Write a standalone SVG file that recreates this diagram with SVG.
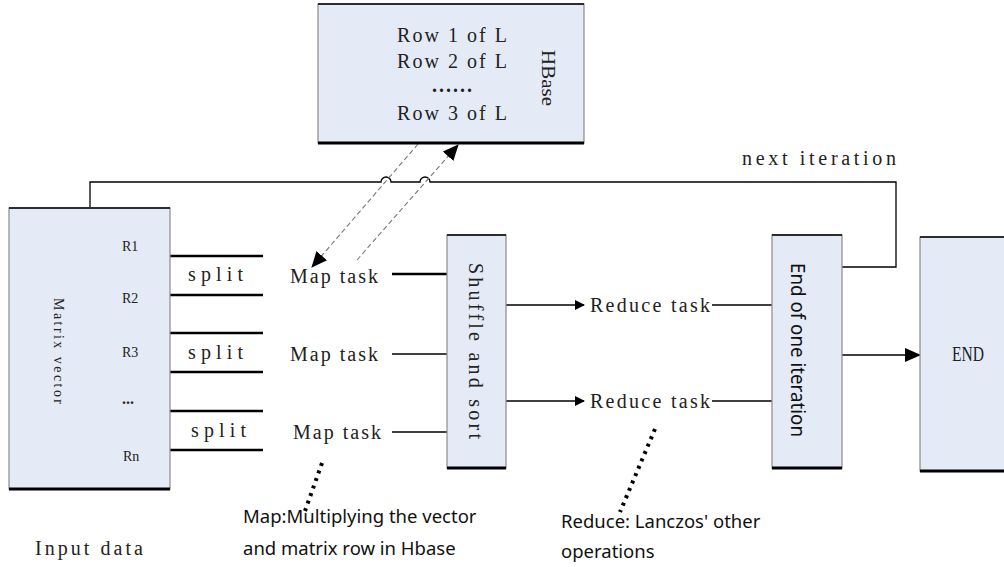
<svg xmlns="http://www.w3.org/2000/svg" width="1004" height="567" viewBox="0 0 1004 567">
<style>
.box{fill:#e5ebf6;stroke:#8a8a8a;stroke-width:1.2}
.top{stroke:#000;stroke-width:1.6}
.bot{stroke:#000;stroke-width:3}
.ln{stroke:#000;stroke-width:1.3;fill:none}
.thk{stroke:#000;stroke-width:2.4;fill:none}
.ser{font-family:"Liberation Serif",serif;fill:#222}
.sans{font-family:"Noto Sans","Liberation Sans",sans-serif;fill:#111}
.dash{stroke:#777;stroke-width:1.1;stroke-dasharray:5,3;fill:none}
.dot{stroke:#000;stroke-width:4;stroke-dasharray:3,5;fill:none}
</style>
<defs>
<marker id="ah" markerWidth="10" markerHeight="10" refX="9" refY="5" orient="auto" markerUnits="userSpaceOnUse"><path d="M0,0 L10,5 L0,10 z" fill="#000"/></marker>
<marker id="ah2" markerWidth="16" markerHeight="14" refX="15" refY="7" orient="auto" markerUnits="userSpaceOnUse"><path d="M0,0 L16,7 L0,14 z" fill="#000"/></marker>
</defs>

<g id="connectors">
<path class="ln" d="M90,207 V182 H381 A5,5 0 0 1 391,182 H420 A5,5 0 0 1 430,182 H896 V267 H842"/>
<line class="thk" x1="170" y1="256" x2="263" y2="256"/>
<line class="thk" x1="170" y1="295" x2="263" y2="295"/>
<line class="thk" x1="170" y1="333" x2="263" y2="333"/>
<line class="thk" x1="170" y1="372" x2="263" y2="372"/>
<line class="thk" x1="170" y1="411" x2="263" y2="411"/>
<line class="thk" x1="170" y1="450" x2="263" y2="450"/>
<line class="thk" x1="392" y1="274" x2="447" y2="274"/>
<line class="ln" x1="392" y1="354" x2="447" y2="354"/>
<line class="ln" x1="392" y1="432" x2="447" y2="432"/>
<line class="ln" x1="506" y1="305" x2="584" y2="305" marker-end="url(#ah)"/>
<line class="ln" x1="506" y1="401" x2="584" y2="401" marker-end="url(#ah)"/>
<line class="ln" x1="712" y1="305" x2="772" y2="305"/>
<line class="ln" x1="712" y1="401" x2="772" y2="401"/>
<line class="ln" x1="842" y1="355" x2="920" y2="355" marker-end="url(#ah2)"/>
<line class="dash" x1="418" y1="144" x2="312" y2="267" marker-end="url(#ah2)"/>
<line class="dash" x1="357" y1="260" x2="458" y2="145" marker-end="url(#ah2)"/>
<line class="dot" x1="322" y1="463" x2="305" y2="511"/>
<line class="dot" x1="655" y1="429" x2="620" y2="512"/>
</g>

<g id="hbase">
<rect class="box" x="318" y="4" width="266" height="139"/>
<line class="top" x1="318" y1="4" x2="584" y2="4"/>
<line class="bot" x1="318" y1="143" x2="584" y2="143"/>
<text class="ser" font-size="20" x="397" y="42" textLength="110" lengthAdjust="spacing">Row 1 of L</text>
<text class="ser" font-size="20" x="397" y="68" textLength="110" lengthAdjust="spacing">Row 2 of L</text>
<text class="ser" font-size="20" x="432" y="92" textLength="40" lengthAdjust="spacing" font-weight="bold">......</text>
<text class="ser" font-size="20" x="397" y="120" textLength="110" lengthAdjust="spacing">Row 3 of L</text>
<text class="ser" font-size="19" transform="translate(542,50) rotate(90)" textLength="56" lengthAdjust="spacingAndGlyphs">HBase</text>
</g>

<g id="matrix">
<rect class="box" x="9" y="208" width="161" height="281"/>
<line class="top" x1="9" y1="208" x2="170" y2="208"/>
<line class="bot" x1="9" y1="489" x2="170" y2="489"/>
<text class="ser" font-size="14" transform="translate(54,298) rotate(90)" textLength="106" lengthAdjust="spacing">Matrix vector</text>
<text class="ser" font-size="14" x="122" y="251">R1</text>
<text class="ser" font-size="14" x="122" y="303">R2</text>
<text class="ser" font-size="14" x="122" y="357">R3</text>
<text class="ser" font-size="16" x="122" y="404" font-weight="bold">...</text>
<text class="ser" font-size="14" x="123" y="461">Rn</text>
</g>
<text class="ser" font-size="20" x="35" y="555" textLength="108" lengthAdjust="spacing">Input data</text>

<g id="splits">
<text class="ser" font-size="20" x="188" y="281" textLength="55" lengthAdjust="spacing">split</text>
<text class="ser" font-size="20" x="188" y="359" textLength="55" lengthAdjust="spacing">split</text>
<text class="ser" font-size="20" x="191" y="437" textLength="55" lengthAdjust="spacing">split</text>
</g>

<g id="maptasks">
<text class="ser" font-size="20" x="290" y="283" textLength="88" lengthAdjust="spacing">Map task</text>
<text class="ser" font-size="20" x="290" y="361" textLength="88" lengthAdjust="spacing">Map task</text>
<text class="ser" font-size="20" x="293" y="439" textLength="88" lengthAdjust="spacing">Map task</text>
</g>

<g id="shuffle">
<rect class="box" x="447" y="235" width="59" height="233"/>
<line class="top" x1="447" y1="235" x2="506" y2="235"/>
<line class="bot" x1="447" y1="468" x2="506" y2="468"/>
<text class="ser" font-size="20" transform="translate(469,263) rotate(90)" textLength="176" lengthAdjust="spacing">Shuffle and sort</text>
</g>

<g id="reduce">
<text class="ser" font-size="20" x="590" y="312" textLength="120" lengthAdjust="spacing">Reduce task</text>
<text class="ser" font-size="20" x="590" y="408" textLength="120" lengthAdjust="spacing">Reduce task</text>
</g>

<g id="enditer">
<rect class="box" x="772" y="235" width="70" height="233"/>
<line class="top" x1="772" y1="235" x2="842" y2="235"/>
<line class="bot" x1="772" y1="468" x2="842" y2="468"/>
<text class="sans" font-size="19" fill="#1b2a4a" transform="translate(791,263) rotate(90)" textLength="174" lengthAdjust="spacingAndGlyphs">End of one iteration</text>
</g>

<g id="end">
<rect class="box" x="920" y="237" width="90" height="234"/>
<line class="top" x1="920" y1="237" x2="1004" y2="237"/>
<line class="bot" x1="920" y1="471" x2="1004" y2="471"/>
<text class="ser" font-size="20" x="952" y="361" textLength="32" lengthAdjust="spacingAndGlyphs">END</text>
</g>

<text class="ser" font-size="20" x="742" y="165" textLength="154" lengthAdjust="spacing">next iteration</text>

<g id="notes">
<text class="sans" font-size="18.5" x="243" y="523">Map:Multiplying the vector</text>
<text class="sans" font-size="18.5" x="243" y="555">and matrix row in Hbase</text>
<text class="sans" font-size="18.5" x="561" y="528">Reduce: Lanczos' other</text>
<text class="sans" font-size="18.5" x="561" y="558">operations</text>
</g>
</svg>
